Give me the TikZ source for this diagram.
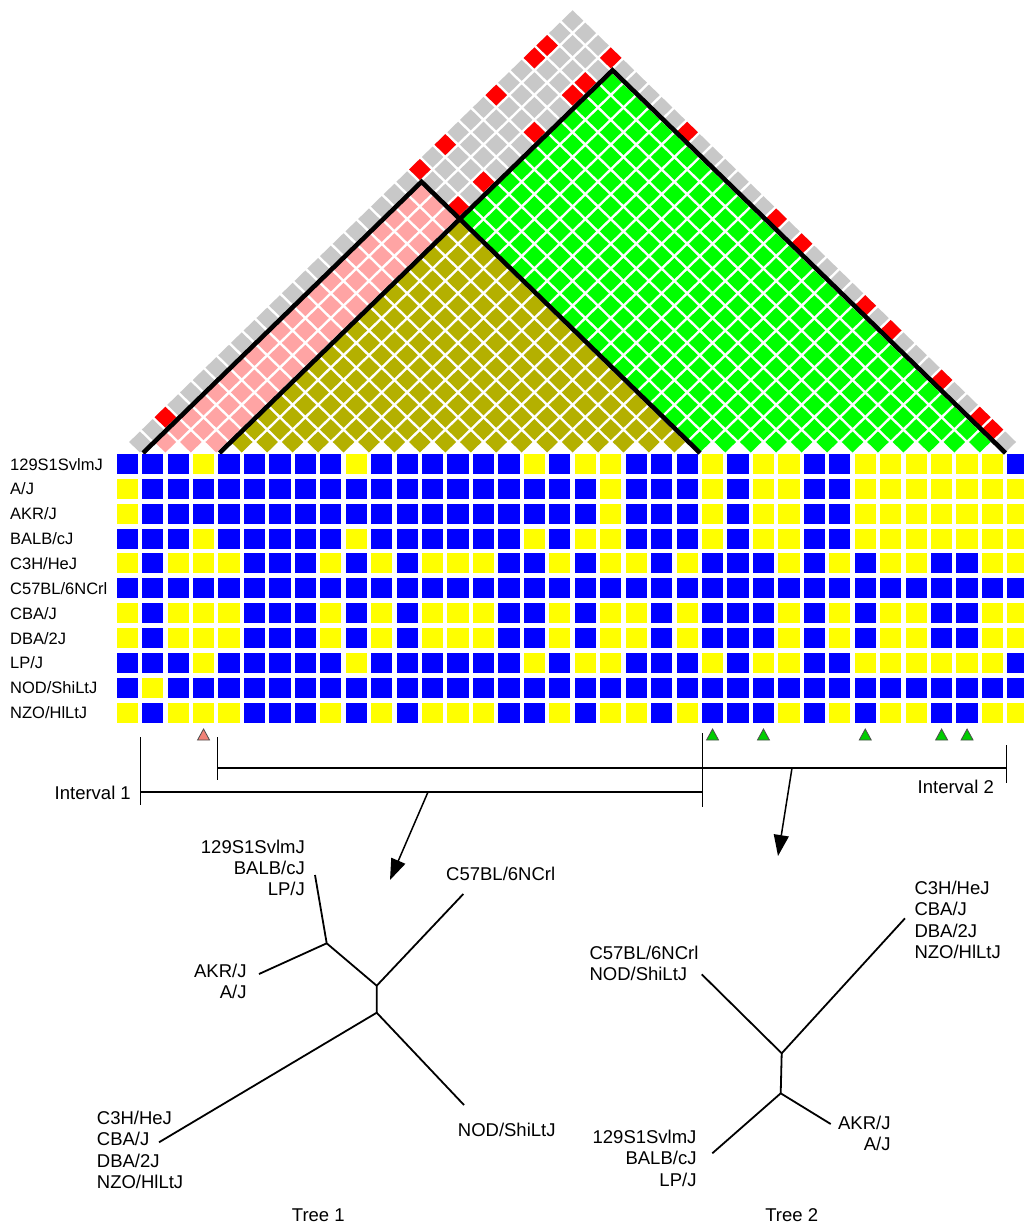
\documentclass[tikz,border=0pt]{standalone}
\usepackage{fontspec}
\setmainfont{Liberation Sans}
\usetikzlibrary{arrows.meta}

\definecolor{geno0}{RGB}{0,0,255}
\definecolor{geno1}{RGB}{255,255,0}
\definecolor{ldgray}{RGB}{200,200,200}
\definecolor{ldred}{RGB}{255,0,0}
\definecolor{ldpink}{RGB}{255,164,164}
\definecolor{ldolive}{RGB}{180,176,0}
\definecolor{ldgreen}{RGB}{0,255,0}
\definecolor{tagpink}{RGB}{240,130,120}
\definecolor{taggreen}{RGB}{0,205,0}

% marker geometry (1 unit = 1 px, y grows downwards)
\def\colpitch{25.45}
\def\colzero{127.2}   % centre of the first marker column
\def\rowpitch{24.87}
\def\ldbase{442}      % centre line of the lowest row of diamonds
\def\ldstep{12.39}    % vertical step between rows of diamonds

% one strain: 36 genotypes, 0 = blue, 1 = yellow
\newcommand\genorow[2]{%
  \foreach \gv [count=\gcol from 0] in {#2}
    \fill[geno\gv] ({\colzero-10.6+\colpitch*\gcol},{454+\rowpitch*#1}) rectangle ++(21.2,20);}

% one LD diamond for the marker pair (#1,#2) in colour #3
\newcommand\ldcell[3]{%
  \pgfmathsetmacro\ldx{\colzero+\colpitch*(#1+#2)/2}%
  \pgfmathsetmacro\ldy{\ldbase-\ldstep*(#2-#1-1)}%
  \fill[#3] ({\ldx-10.8},{\ldy}) -- ({\ldx},{\ldy-10.5}) -- ({\ldx+10.8},{\ldy}) -- ({\ldx},{\ldy+10.5}) -- cycle;}

\tikzset{
  rowlab/.style={font=\fontsize{16.5}{19}\selectfont, inner sep=0pt, anchor=base west},
  treelab/.style={font=\fontsize{18.5}{21.2}\selectfont, inner sep=0pt},
  blockline/.style={line width=4.6pt, line join=miter, black},
  bracket/.style={line width=1.5pt, black},
  treeedge/.style={line width=1.8pt, line join=round, black},
  pointer/.style={line width=1.5pt, -{Triangle[length=21pt,width=15pt]}},
}

\begin{document}
\begin{tikzpicture}[x=1pt,y=-1pt]
\useasboundingbox (0,0) rectangle (1024,1225);
\fill[white] (0,0) rectangle (1024,1225);

% ---------- LD triangle ----------
\foreach \ma in {0,...,34}{
  \pgfmathtruncatemacro\mstart{\ma+1}
  \foreach \mb in {\mstart,...,35}{
    \def\dcol{ldgray}
    \ifnum\ma>0 \ifnum\mb<23 \def\dcol{ldpink}\fi\fi
    \ifnum\ma>3 \ifnum\mb<23 \def\dcol{ldolive}\fi\fi
    \ifnum\ma>3 \ifnum\mb>22 \ifnum\mb<35 \def\dcol{ldgreen}\fi\fi\fi
    \ldcell{\ma}{\mb}{\dcol}
  }
}
% pairs in strong LD outside the blocks
\foreach \ma/\mb in {0/3,0/23,0/25,0/29,0/32,0/33,3/23,3/25,3/29,3/32,3/33,3/35,
                     9/35,16/35,18/35,23/35,25/35,29/35,32/35,33/35}{\ldcell{\ma}{\mb}{ldred}}

% block outlines
\coordinate (b1L) at (143,453);
\coordinate (b1T) at (421.5,181.8);
\coordinate (b1R) at (700,453);
\coordinate (b2L) at (219.5,453);
\coordinate (b2T) at (612.5,70.3);
\coordinate (b2R) at (1005.5,453);
\draw[blockline] (b1L) -- (b1T) -- (b1R);
\draw[blockline] (b2L) -- (b2T) -- (b2R);

% ---------- genotype grid ----------
\genorow{0}{0,0,0,1,0,0,0,0,0,1,0,0,0,0,0,0,1,0,1,1,0,0,0,1,0,1,1,0,0,1,1,1,1,1,1,0}
\genorow{1}{1,0,0,0,0,0,0,0,0,0,0,0,0,0,0,0,0,0,0,1,0,0,0,1,0,1,1,0,0,1,1,1,1,1,1,1}
\genorow{2}{1,0,0,0,0,0,0,0,0,0,0,0,0,0,0,0,0,0,0,1,0,0,0,1,0,1,1,0,0,1,1,1,1,1,1,1}
\genorow{3}{0,0,0,1,0,0,0,0,0,1,0,0,0,0,0,0,1,0,1,1,0,0,0,1,0,1,1,0,0,1,1,1,1,1,1,1}
\genorow{4}{1,0,1,1,1,0,0,0,1,0,1,0,1,1,1,0,0,1,0,1,1,0,1,0,0,0,1,0,1,0,1,1,0,0,1,1}
\genorow{5}{0,0,0,0,0,0,0,0,0,0,0,0,0,0,0,0,0,0,0,0,0,0,0,0,0,0,0,0,0,0,0,0,0,0,0,0}
\genorow{6}{1,0,1,1,1,0,0,0,1,0,1,0,1,1,1,0,0,1,0,1,1,0,1,0,0,0,1,0,1,0,1,1,0,0,1,1}
\genorow{7}{1,0,1,1,1,0,0,0,1,0,1,0,1,1,1,0,0,1,0,1,1,0,1,0,0,0,1,0,1,0,1,1,0,0,1,1}
\genorow{8}{0,0,0,1,0,0,0,0,0,1,0,0,0,0,0,0,1,0,1,1,0,0,0,1,0,1,1,0,0,1,1,1,1,1,1,0}
\genorow{9}{0,1,0,0,0,0,0,0,0,0,0,0,0,0,0,0,0,0,0,0,0,0,0,0,0,0,0,0,0,0,0,0,0,0,0,0}
\genorow{10}{1,0,1,1,1,0,0,0,1,0,1,0,1,1,1,0,0,1,0,1,1,0,1,0,0,0,1,0,1,0,1,1,0,0,1,1}

\foreach \lab [count=\r from 0] in {129S1SvlmJ,A/J,AKR/J,BALB/cJ,C3H/HeJ,C57BL/6NCrl,
    CBA/J,DBA/2J,LP/J,NOD/ShiLtJ,NZO/HlLtJ}
  \node[rowlab] (strain\r) at (10,{470+\rowpitch*\r}) {\lab};

% tagged markers
\foreach \mc/\tc in {3/tagpink,23/taggreen,25/taggreen,29/taggreen,32/taggreen,33/taggreen}
  \filldraw[fill=\tc, draw=black!70, line width=0.8pt]
    ({\colzero+\colpitch*\mc},729) -- ++(6,11) -- ++(-12,0) -- cycle;

% ---------- intervals ----------
\draw[bracket] (140.5,737) -- (140.5,805);
\draw[bracket] (702.6,733) -- (702.6,807);
\draw[bracket] (140.5,792) -- (702.6,792);
\draw[bracket] (217.6,737) -- (217.6,780);
\draw[bracket] (1006.5,745) -- (1006.5,783);
\draw[bracket] (217.6,768) -- (1006.5,768);
\node[treelab, anchor=base east] (int1) at (131,799) {Interval 1};
\node[treelab, anchor=base east] (int2) at (994,793) {Interval 2};

\coordinate (i1mid) at (428,792);
\coordinate (i2mid) at (792,768);
\coordinate (t1in) at (390,880);
\coordinate (t2in) at (778,856);
\draw[pointer] (i1mid) -- (t1in);
\draw[pointer] (i2mid) -- (t2in);

% ---------- tree 1 ----------
\coordinate (t1a) at (326.7,943.3);
\coordinate (t1b) at (376.7,985.7);
\coordinate (t1c) at (376.7,1012.7);
\coordinate (t1l1) at (315,875);
\coordinate (t1l2) at (259,974);
\coordinate (t1l3) at (463.3,894);
\coordinate (t1l4) at (159,1142.3);
\coordinate (t1l5) at (464,1105);
\draw[treeedge] (t1l1) -- (t1a) -- (t1b) -- (t1c) -- (t1l4);
\draw[treeedge] (t1l2) -- (t1a);
\draw[treeedge] (t1b) -- (t1l3);
\draw[treeedge] (t1c) -- (t1l5);

\node[treelab, align=right, anchor=north east] (g1a) at (305,839.4) {129S1SvlmJ\\BALB/cJ\\LP/J};
\node[treelab, anchor=base west] (g1b) at (446,880.6) {C57BL/6NCrl};
\node[treelab, align=right, anchor=north east] (g1c) at (246.7,963.4) {AKR/J\\A/J};
\node[treelab, align=left, anchor=north west] (g1d) at (96.7,1111) {C3H/HeJ\\CBA/J\\DBA/2J\\NZO/HlLtJ};
\node[treelab, anchor=base west] (g1e) at (457.7,1136.6) {NOD/ShiLtJ};
\node[treelab, anchor=base] (tree1) at (318.3,1221.6) {Tree 1};

% ---------- tree 2 ----------
\coordinate (t2d) at (781.7,1053.3);
\coordinate (t2e) at (780.7,1093.3);
\coordinate (t2l1) at (701.7,974.3);
\coordinate (t2l2) at (905,918.3);
\coordinate (t2l3) at (712.3,1153.3);
\coordinate (t2l4) at (830.7,1124);
\draw[treeedge] (t2l1) -- (t2d) -- (t2e) -- (t2l3);
\draw[treeedge] (t2d) -- (t2l2);
\draw[treeedge] (t2e) -- (t2l4);

\node[treelab, align=left, anchor=north west] (g2a) at (589.3,946) {C57BL/6NCrl\\NOD/ShiLtJ};
\node[treelab, align=left, anchor=north west] (g2b) at (914.3,881) {C3H/HeJ\\CBA/J\\DBA/2J\\NZO/HlLtJ};
\node[treelab, align=right, anchor=north east] (g2c) at (696.7,1130) {129S1SvlmJ\\BALB/cJ\\LP/J};
\node[treelab, align=right, anchor=north east] (g2d) at (890.7,1116) {AKR/J\\A/J};
\node[treelab, anchor=base] (tree2) at (791.7,1221.6) {Tree 2};
\end{tikzpicture}
\end{document}
